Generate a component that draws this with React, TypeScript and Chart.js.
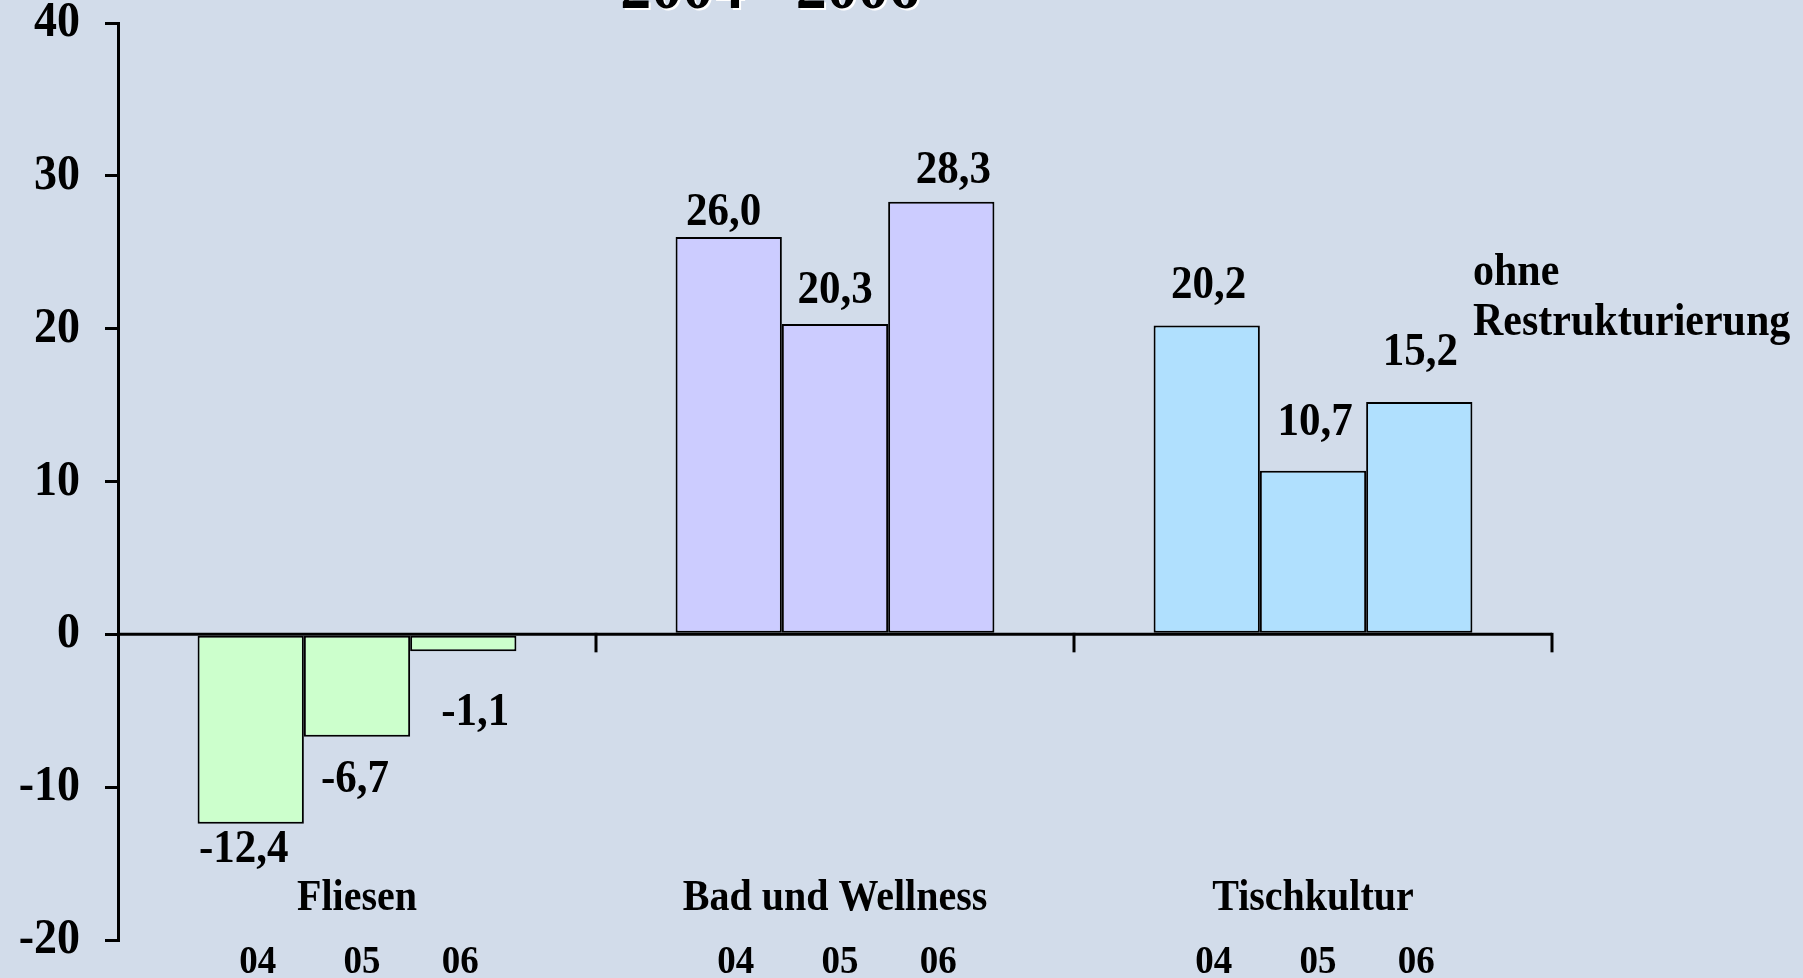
import React, { useEffect, useRef } from "react";
import { Chart, registerables } from "chart.js";

Chart.register(...registerables);

// ---- data ----
const categories = ["Fliesen", "Bad und Wellness", "Tischkultur"];
const years = ["04", "05", "06"];
const values04 = [-12.4, 26.0, 20.2];
const values05 = [-6.7, 20.3, 10.7];
const values06 = [-1.1, 28.3, 15.2];
const yMin = -20;
const yMax = 40;
const yStep = 10;
const titleText = "2004 - 2006";
const noteLines = ["ohne", "Restrukturierung"];

// ---- styles ----
const categoryColors = ["#CCFFCC", "#CCCCFF", "#B0E0FE"];
const bgColor = "#D2DCEA";
const FONT = "'Liberation Serif', 'Times New Roman', serif";
const STRETCH = 1.1;
// label offsets (px) relative to bar end, per dataset then category
const labelDx = [
  [-7, -5, 2],
  [-2, 0, 2],
  [12, 12, 1],
];
const labelDy = [
  [26, -24, -40],
  [43, -33, -48],
  [62, -31, -49],
];
const yearDx = [7, 5, -3];

const fmt = (v: number) => v.toFixed(1).replace(".", ",");

function text(ctx: CanvasRenderingContext2D, s: string, x: number, y: number) {
  ctx.save();
  ctx.translate(x, y);
  ctx.scale(1, STRETCH);
  ctx.fillText(s, 0, 0);
  ctx.restore();
}

const overlayPlugin = {
  id: "overlay",
  afterDatasetsDraw(chart: any) {
    const ctx = chart.ctx;
    const xs = chart.scales.x;
    const ys = chart.scales.y;
    const area = chart.chartArea;
    const y0 = ys.getPixelForValue(0);
    ctx.save();
    // zero axis line with category ticks
    ctx.strokeStyle = "#000";
    ctx.lineWidth = 3;
    ctx.beginPath();
    ctx.moveTo(area.left, y0);
    ctx.lineTo(area.right, y0);
    ctx.stroke();
    const n = categories.length;
    const catW = xs.getPixelForValue(1) - xs.getPixelForValue(0);
    for (let i = 1; i <= n; i++) {
      const bx = xs.getPixelForValue(i - 1) + catW / 2;
      ctx.beginPath();
      ctx.moveTo(bx, y0 - 1.5);
      ctx.lineTo(bx, y0 + 18);
      ctx.stroke();
    }
    ctx.fillStyle = "#000";
    // y tick labels
    ctx.textAlign = "right";
    ctx.textBaseline = "middle";
    ctx.font = `bold 46px ${FONT}`;
    ys.ticks.forEach((t: any) => {
      text(ctx, String(t.value), 80, ys.getPixelForValue(t.value));
    });
    // value labels
    ctx.textAlign = "center";
    ctx.font = `bold 43px ${FONT}`;
    chart.data.datasets.forEach((ds: any, i: number) => {
      const meta = chart.getDatasetMeta(i);
      meta.data.forEach((el: any, j: number) => {
        const v = ds.data[j];
        text(ctx, fmt(v), el.x + labelDx[i][j], el.y + labelDy[i][j]);
      });
    });
    // category names
    ctx.font = `bold 40px ${FONT}`;
    categories.forEach((c, j) => {
      text(ctx, c, xs.getPixelForValue(j), 899);
    });
    // year labels
    ctx.font = `bold 37px ${FONT}`;
    chart.data.datasets.forEach((ds: any, i: number) => {
      const meta = chart.getDatasetMeta(i);
      meta.data.forEach((el: any) => {
        text(ctx, years[i], el.x + yearDx[i], 962);
      });
    });
    // note
    ctx.textAlign = "left";
    ctx.font = `bold 42px ${FONT}`;
    text(ctx, noteLines[0], 1473, 273);
    text(ctx, noteLines[1], 1473, 323);
    // title (clipped at the top)
    ctx.textAlign = "center";
    ctx.textBaseline = "alphabetic";
    ctx.font = `bold 62px ${FONT}`;
    ctx.fillStyle = "#FFFFFF";
    text(ctx, titleText, 772, 10);
    ctx.fillStyle = "#000";
    text(ctx, titleText, 770, 8);
    ctx.restore();
  },
};

export default function App() {
  const canvasRef = useRef<HTMLCanvasElement | null>(null);

  useEffect(() => {
    if (!canvasRef.current) return;
    const mk = (label: string, data: number[]) => ({
      label,
      data,
      backgroundColor: categoryColors,
      borderColor: "#000",
      borderWidth: 2,
      borderSkipped: false,
      barPercentage: 1.0,
      categoryPercentage: 0.667,
    });
    const chart = new Chart(canvasRef.current, {
      type: "bar",
      data: {
        labels: categories,
        datasets: [mk(years[0], values04), mk(years[1], values05), mk(years[2], values06)],
      },
      options: {
        animation: false,
        responsive: true,
        maintainAspectRatio: false,
        layout: { padding: { top: 23, bottom: 38, right: 251, left: 0 } },
        plugins: {
          legend: { display: false },
          tooltip: { enabled: false },
        },
        scales: {
          x: {
            display: false,
            offset: true,
          },
          y: {
            min: yMin,
            max: yMax,
            afterFit(scale: any) {
              scale.width = 118;
              scale.paddingTop = 0;
              scale.paddingBottom = 0;
            },
            ticks: {
              stepSize: yStep,
              display: false,
            },
            grid: {
              drawOnChartArea: false,
              drawTicks: true,
              tickLength: 13,
              color: "#000",
              lineWidth: 3,
            },
            border: { display: true, color: "#000", width: 3 },
          },
        },
      },
      plugins: [overlayPlugin],
    } as any);
    return () => chart.destroy();
  }, []);

  return (
    <div
      style={{
        position: "absolute",
        left: 0,
        top: 0,
        width: 1803,
        height: 978,
        background: bgColor,
      }}
    >
      <canvas ref={canvasRef} />
    </div>
  );
}
